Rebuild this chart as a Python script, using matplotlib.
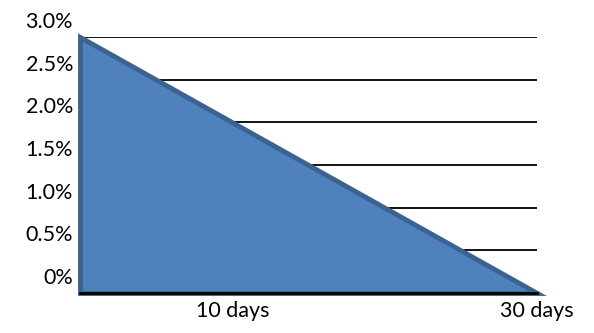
import matplotlib
matplotlib.use("Agg")
import matplotlib.pyplot as plt
import matplotlib.transforms as mtransforms

# Rate decays linearly from its starting level to zero over 30 days
days = [0, 30]
rate_pct = [3.0, 0.0]

y_ticks = [0.0, 0.5, 1.0, 1.5, 2.0, 2.5, 3.0]
y_labels = ["0%", "0.5%", "1.0%", "1.5%", "2.0%", "2.5%", "3.0%"]
x_ticks = [10, 30]
x_labels = ["10 days", "30 days"]

plt.rcParams["font.family"] = ["Lato", "DejaVu Sans"]

fig = plt.figure(figsize=(5.94, 3.33), dpi=100)
ax = fig.add_axes([80 / 594, 40 / 333, 457 / 594, 256 / 333])

# horizontal gridlines
for v in y_ticks[1:]:
    ax.axhline(v, color="black", lw=1.3, zorder=1)

ax.fill_between(days, rate_pct, 0, facecolor="#4F81BD", edgecolor="#3B6290",
                lw=3.5, joinstyle="miter", zorder=2, clip_on=False)
ax.axhline(0, color="black", lw=2.0, zorder=3, clip_on=False)

ax.set_xlim(0, 30)
ax.set_ylim(0, 3.0)

for s in ax.spines.values():
    s.set_visible(False)

ax.set_yticks(y_ticks)
ax.set_yticklabels(y_labels, fontsize=15.5)
ax.set_xticks(x_ticks)
ax.set_xticklabels(x_labels, fontsize=15.5)
ax.tick_params(axis="both", length=0)
ax.tick_params(axis="y", pad=5)
ax.tick_params(axis="x", pad=6)

# value labels sit slightly above their gridlines
up = mtransforms.ScaledTranslation(0, 17 / 100, fig.dpi_scale_trans)
for lab in ax.get_yticklabels():
    lab.set_transform(lab.get_transform() + up)

fig.savefig("out.png", dpi=100)
